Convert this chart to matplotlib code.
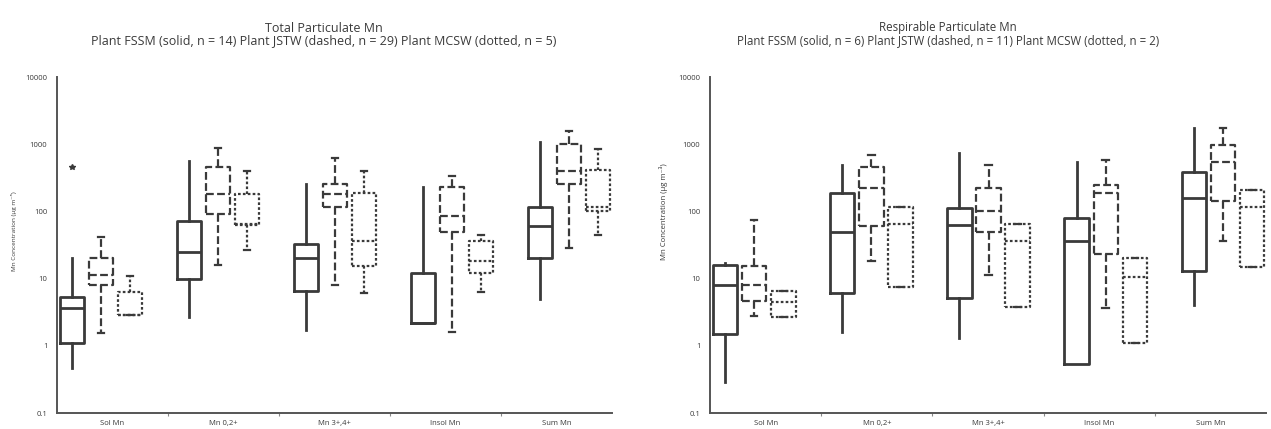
import numpy as np
import matplotlib
matplotlib.use("Agg")
import matplotlib.pyplot as plt

plt.rcParams['font.family'] = ['Open Sans', 'DejaVu Sans']

categories = ["Sol Mn", "Mn 0,2+", "Mn 3+,4+", "Insol Mn", "Sum Mn"]
plants = ["FSSM", "JSTW", "MCSW"]

# each row: whislo, q1, med, q3, whishi  (one row per category)
total_fssm = [[0.47, 1.1, 3.6, 5.4, 20.6],
              [2.7, 9.7, 25, 71, 560],
              [1.7, 6.6, 20, 33, 252],
              [2.2, 2.2, 2.2, 12.3, 229],
              [5.0, 20, 60, 115, 1070]]
total_fssm_fliers = [[455], [], [], [], []]
total_jstw = [[1.56, 8.1, 11.5, 20, 41],
              [16, 93, 180, 455, 870],
              [8.1, 115, 180, 252, 620],
              [1.6, 49, 85, 229, 332],
              [29, 252, 395, 1000, 1560]]
total_mcsw = [[2.9, 2.9, 2.9, 6.4, 11],
              [27, 62, 64, 180, 395],
              [6.2, 15.6, 36, 185, 395],
              [6.4, 12.3, 18, 36, 45],
              [44, 100, 118, 410, 845]]

resp_fssm = [[0.29, 1.5, 7.9, 16.2, 17.3],
             [1.6, 6.2, 50, 186, 490],
             [1.3, 5.2, 62, 111, 735],
             [0.54, 0.54, 36, 79, 540],
             [4.0, 13.1, 156, 380, 1740]]
resp_jstw = [[2.8, 4.7, 7.9, 15.6, 74],
             [18, 60, 220, 455, 690],
             [11.5, 50, 100, 220, 490],
             [3.6, 23.6, 186, 245, 575],
             [36, 141, 540, 970, 1740]]
resp_mcsw = [[2.7, 2.7, 4.5, 6.6, 6.6],
             [7.6, 7.6, 66, 118, 118],
             [3.8, 3.8, 36, 66, 66],
             [1.1, 1.1, 10.7, 20.5, 20.5],
             [15, 15, 115, 205, 205]]

yticks = [0.1, 1, 10, 100, 1000, 10000]
ytick_labels = ["0.1", "1", "10", "100", "1000", "10000"]

ink = "#3a3a3a"
styles = ["-", (0, (3.5, 1.5)), (0, (1.2, 1.0))]


def make_stats(rows, fliers=None):
    out = []
    for k, r in enumerate(rows):
        out.append(dict(whislo=r[0], q1=r[1], med=r[2], q3=r[3], whishi=r[4],
                        fliers=(fliers[k] if fliers else [])))
    return out


def draw_panel(ax, series, fliers, title, sub, tx, tsize, lsize):
    for j, rows in enumerate(series):
        pos = 0.135 + 1.054 * np.arange(len(categories)) + 0.262 * j
        ls = styles[j]
        lw = 2.0 if j == 0 else 1.6
        ax.bxp(make_stats(rows, fliers[j]), positions=pos, widths=0.22,
               showcaps=(j > 0), capwidths=0.06,
               boxprops=dict(color=ink, linestyle=ls, linewidth=lw),
               whiskerprops=dict(color=ink, linestyle=ls, linewidth=lw),
               capprops=dict(color=ink, linestyle="-", linewidth=lw),
               medianprops=dict(color=ink, linestyle=ls, linewidth=lw),
               flierprops=dict(marker="*", markersize=4, markerfacecolor=ink,
                               markeredgecolor=ink))
    ax.set_yscale("log")
    ax.set_ylim(0.1, 10000)
    ax.set_xlim(0, 5)
    ax.set_yticks(yticks)
    ax.set_yticklabels(ytick_labels)
    ax.yaxis.set_minor_locator(matplotlib.ticker.NullLocator())
    ax.set_xticks([1, 2, 3, 4])
    ax.set_xticklabels([])
    ax.set_xticks(np.arange(5) + 0.5, minor=True)
    ax.set_xticklabels(categories, minor=True)
    ax.tick_params(axis="x", which="major", length=2.5, color="#888888")
    ax.tick_params(axis="x", which="minor", length=0, labelsize=5.5, colors=ink, pad=5)
    ax.tick_params(axis="y", length=0, labelsize=5.5, colors=ink, pad=7)
    for s in ["top", "right"]:
        ax.spines[s].set_visible(False)
    for s in ["left", "bottom"]:
        ax.spines[s].set_color("#555555")
        ax.spines[s].set_linewidth(1.4)
    ax.set_ylabel("Mn Concentration (\u00b5g m\u207b\u00b3)", fontsize=lsize, color=ink)
    fig.text(tx, 1 - 28 / 429, title, ha="center", va="center", fontsize=tsize, color=ink)
    fig.text(tx, 1 - 41 / 429, sub, ha="center", va="center", fontsize=tsize, color=ink)


fig = plt.figure(figsize=(12.71, 4.29), dpi=100)
ax1 = fig.add_axes([57 / 1271, 16 / 429, 555 / 1271, 336 / 429])
ax2 = fig.add_axes([710 / 1271, 16 / 429, 556 / 1271, 336 / 429])

draw_panel(ax1, [total_fssm, total_jstw, total_mcsw],
           [total_fssm_fliers, None, None],
           "Total Particulate Mn",
           "Plant FSSM (solid, n = 14) Plant JSTW (dashed, n = 29) Plant MCSW (dotted, n = 5)",
           324 / 1271, 9.0, 4.6)
draw_panel(ax2, [resp_fssm, resp_jstw, resp_mcsw],
           [None, None, None],
           "Respirable Particulate Mn",
           "Plant FSSM (solid, n = 6) Plant JSTW (dashed, n = 11) Plant MCSW (dotted, n = 2)",
           948 / 1271, 8.3, 5.6)
ax1.yaxis.set_label_coords(-40 / 555, 0.54)
ax2.yaxis.set_label_coords(-42 / 556, 0.6)

fig.savefig("out.png", dpi=100)
